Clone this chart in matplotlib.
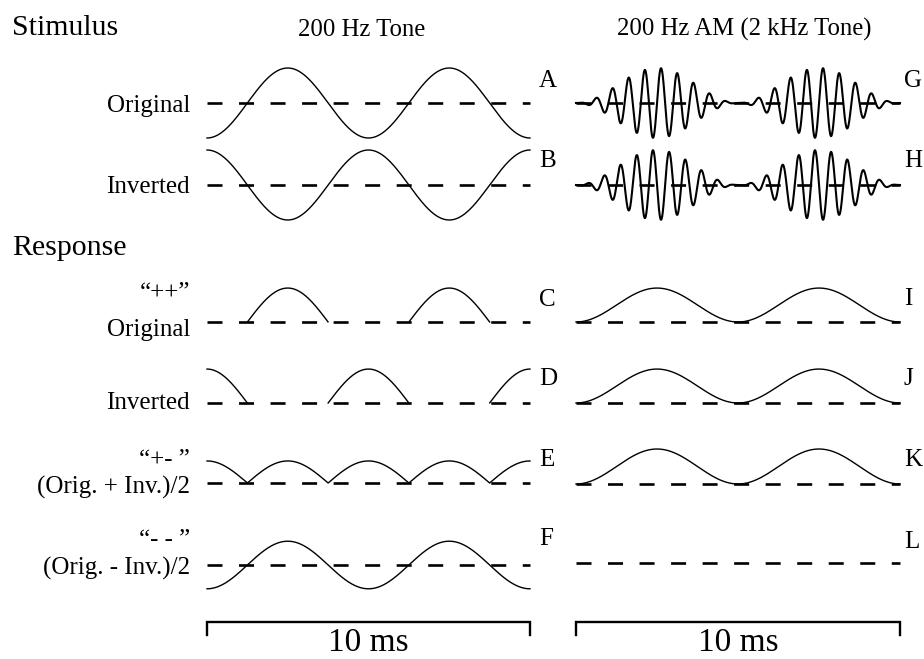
import numpy as np
import matplotlib.pyplot as plt

plt.rcParams['font.family'] = ['Liberation Serif', 'DejaVu Serif']
plt.rcParams['lines.scale_dashes'] = False

# waveform parameters
tone_freq = 0.2        # 200 Hz tone / AM rate, cycles per ms
carrier_freq = 2.0     # 2 kHz carrier, cycles per ms
duration = 10.0        # ms per panel (scale bar)
stim_amp = [1.0, 1.0]                 # A, B / G, H
tone_resp_amp = [0.97, 0.97, 0.63, 0.68]   # C, D, E, F
am_resp_amp = [0.97, 0.97, 1.0, 0.0]       # I, J, K, L

left_letters = ['A', 'B', 'C', 'D', 'E', 'F']
right_letters = ['G', 'H', 'I', 'J', 'K', 'L']
row_labels = ['Original', 'Inverted', '\u201c++\u201d', 'Original', 'Inverted',
              '\u201c+- \u201d', '(Orig. + Inv.)/2', '\u201c- - \u201d', '(Orig. - Inv.)/2']
col_titles = ['200 Hz Tone', '200 Hz AM (2 kHz Tone)']
section_titles = ['Stimulus', 'Response']
scale_text = '10 ms'

# layout (pixels)
W, H = 924, 659
left_base = [103, 185, 322, 403, 483, 565]
right_base = [103, 185, 322, 403, 484, 563]
left_letter_y = [87, 167, 306, 385, 466, 545]
right_letter_y = [87, 167, 305, 385, 466, 548]
row_label_y = [112, 193, 299, 336, 409, 466, 494, 546, 575]
px_unit = 35

t = np.linspace(0, duration, 3001)

# tone column
orig = -np.cos(2 * np.pi * tone_freq * t) * stim_amp[0]
inv = np.cos(2 * np.pi * tone_freq * t) * stim_amp[1]
c_resp = np.clip(orig, 0, None) * tone_resp_amp[0]
d_resp = np.clip(inv, 0, None) * tone_resp_amp[1]
# half-wave rectified parts: only the positive lobes are drawn
c_resp[c_resp <= 0] = np.nan
d_resp[d_resp <= 0] = np.nan
e_resp = np.abs(orig) * tone_resp_amp[2]
f_resp = orig * tone_resp_amp[3]
tone_rows = [orig, inv, c_resp, d_resp, e_resp, f_resp]

# AM column
env = (1 - np.cos(2 * np.pi * tone_freq * t)) / 2
am_orig = env * np.sin(2 * np.pi * carrier_freq * t) * stim_amp[0]
am_inv = -env * np.sin(2 * np.pi * carrier_freq * t) * stim_amp[1]
am_rows = [am_orig, am_inv] + [env * a for a in am_resp_amp]

fig = plt.figure(figsize=(W / 100, H / 100), dpi=100)
tx = fig.add_axes([0, 0, 1, 1])
tx.set_xlim(0, W)
tx.set_ylim(H, 0)
tx.axis('off')

dash = (0, (10.8, 11.9))
panels = [(207, 323, left_base, tone_rows, [1.0] * 6, [True] * 6),
          (576, 324, right_base, am_rows, [1.5, 1.5, 1.0, 1.0, 1.0, 1.0], [True] * 5 + [False])]
axes = []
for x0, w, bases, rows, widths, draw in panels:
    ax = fig.add_axes([x0 / W, 0, w / W, 1])
    ax.set_xlim(0, duration)
    ax.set_ylim(H, 0)
    ax.axis('off')
    for base, y, lw, d in zip(bases, rows, widths, draw):
        if d:
            ax.plot(t, base - px_unit * y, color='k', lw=lw, clip_on=False, zorder=3)
        ax.plot([0, duration], [base, base], color='k', lw=1.9, ls=dash,
                clip_on=False, zorder=4)
    # scale bar
    ax.plot([0, 0, duration, duration], [635, 622, 622, 635], color='k', lw=1.7,
            clip_on=False, solid_joinstyle='miter')
    ax.text(duration / 2, 651, scale_text, fontsize=24, ha='center', va='baseline')
    axes.append(ax)

for letter, y in zip(left_letters, left_letter_y):
    tx.text(539, y, letter, fontsize=18, ha='left', va='baseline')
for letter, y in zip(right_letters, right_letter_y):
    tx.text(904, y, letter, fontsize=18, ha='left', va='baseline')
for lab, y in zip(row_labels, row_label_y):
    tx.text(190, y, lab, fontsize=18, ha='right', va='baseline')

tx.text(12, 35, section_titles[0], fontsize=21.5, ha='left', va='baseline')
tx.text(12, 255, section_titles[1], fontsize=21.5, ha='left', va='baseline')
tx.text(362, 36, col_titles[0], fontsize=17.8, ha='center', va='baseline')
tx.text(744, 36, col_titles[1], fontsize=17.8, ha='center', va='baseline')

fig.savefig('out.png', dpi=100)
